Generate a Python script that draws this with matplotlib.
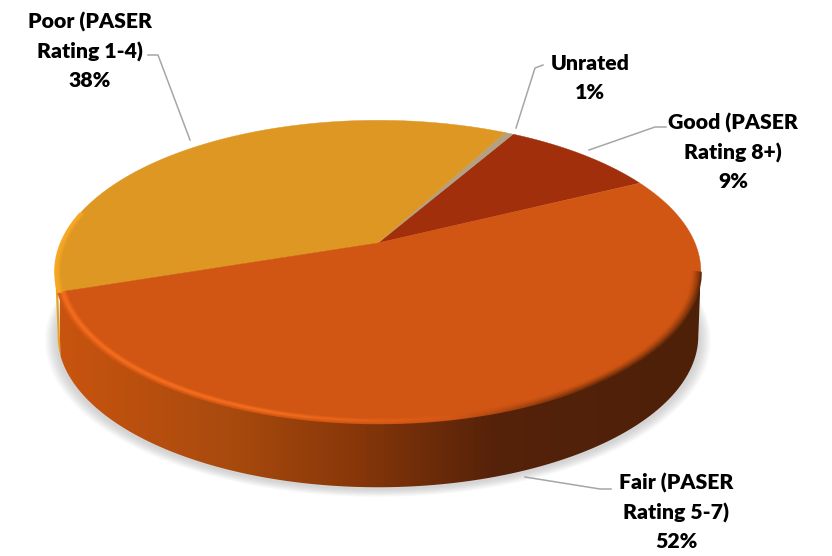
import numpy as np
import matplotlib
matplotlib.use('Agg')
import matplotlib.pyplot as plt
from matplotlib.colors import LinearSegmentedColormap, to_rgb
from matplotlib.collections import LineCollection
from matplotlib.patches import Polygon

labels = ['Good (PASER\nRating 8+)\n9%', 'Unrated\n1%', 'Poor (PASER\nRating 1-4)\n38%', 'Fair (PASER\nRating 5-7)\n52%']
values = [9.4, 0.5, 37.9, 52.2]
colors = ['#A22F0B', '#B3A183', '#DD9722', '#D25613']
wall_colors = [None, None, '#E8A020', None]

# pie geometry in pixels, the disc is tilted so the far half looks smaller
cx, cy = 378, 243
rx, ry, tilt = 317, 146, 0.19
depth = 64
start = 26.4


def project(theta, r=1.0, drop=0, shrink=1.0):
    t = np.radians(theta)
    x = r * np.cos(t)
    y = r * np.sin(t)
    w = 1 + tilt * y
    return np.column_stack([cx + shrink * rx * x / w, cy - ry * y / w + drop])


fig = plt.figure(figsize=(8.32, 5.56), dpi=100)
ax = fig.add_axes([0, 0, 1, 1])

wedges, _ = ax.pie(values, startangle=start, counterclock=True)
spans = [(w.theta1, w.theta2) for w in wedges]
for w in wedges:
    w.remove()

# soft shadow under the disc
all_angles = np.linspace(0, 360, 361)
for i in range(12):
    grow = 1.03 - i * 0.003
    ax.add_patch(Polygon(project(all_angles, r=grow, drop=depth + 3), closed=True,
                         fc='#666666', ec='none', alpha=0.025, zorder=1))

left_edge = 180 + np.degrees(np.arcsin(tilt))
right_edge = 360 - np.degrees(np.arcsin(tilt))

# side wall of the big slice, with a left to right gradient
fair = spans[3]
wall_t = np.linspace(fair[0], right_edge, 300)
wall_pts = np.vstack([project(wall_t), project(wall_t[::-1], drop=depth, shrink=0.992)])
wall = Polygon(wall_pts, closed=True, fc='none', ec='none', zorder=2)
ax.add_patch(wall)
grad = LinearSegmentedColormap.from_list('wall', [(0, '#C8540F'), (0.27, '#A84A0E'),
                                                  (0.45, '#8A3809'), (0.68, '#55220A'),
                                                  (1, '#4E2008')])
img = ax.imshow(np.linspace(0, 1, 400).reshape(1, -1), cmap=grad, aspect='auto',
                extent=[60, 700, 500, 240], zorder=2)
img.set_clip_path(wall)

# thin strip of the poor slice on the far left
poor = spans[2]
strip_t = np.linspace(left_edge, poor[1], 40)
ax.add_patch(Polygon(np.vstack([project(strip_t), project(strip_t[::-1], drop=depth, shrink=0.992)]),
                     closed=True, fc=wall_colors[2], ec='none', zorder=1.5))

# slices
for (t1, t2), col in zip(spans, colors):
    t = np.linspace(t1, t2, 200)
    pts = np.vstack([[cx, cy], project(t)])
    ax.add_patch(Polygon(pts, closed=True, fc=col, ec=col, lw=0.3, zorder=3))

# bevel along the rim
face = np.array(to_rgb(colors[3]))
bright = np.array(to_rgb('#F56E1E'))
dark = np.array(to_rgb('#5A2408'))
fair_t = np.linspace(fair[0], right_edge, 400)
for r in np.linspace(1.0, 0.97, 10):
    p = project(fair_t, r=r)
    seg = np.stack([p[:-1], p[1:]], axis=1)
    mid = p[:-1, 0]
    u = np.clip((1 - r) / 0.03, 0, 1)
    glow = np.clip((460 - mid) / 200, 0, 1) * np.sin(np.pi * u) ** 2
    shade = np.clip((mid - 450) / 150, 0, 1) * (1 - u) ** 1.4
    rgb = face + glow[:, None] * (bright - face) + shade[:, None] * (dark - face)
    ax.add_collection(LineCollection(seg, colors=np.clip(rgb, 0, 1), linewidths=1.4, zorder=4))

poor_t = np.linspace(168, poor[1], 120)
for r, a in zip(np.linspace(1.0, 0.985, 5), [0.9, 0.9, 0.7, 0.4, 0.2]):
    ax.plot(*project(poor_t, r=r).T, color='#F7A823', lw=1.4, alpha=a, zorder=4)

# leader lines
leaders = [([589, 655, 666], [150, 127, 127]),
           ([516, 535, 543], [128, 68, 65]),
           ([190, 158, 148], [140, 55, 55]),
           ([525, 600, 611], [477, 489, 489])]
for xs, ys in leaders:
    ax.plot(xs, ys, color='#A6A6A6', lw=1.1, zorder=5)

# labels
spots = [(733, 152), (590, 78), (90, 51), (676, 512)]
for lab, (x, y) in zip(labels, spots):
    ax.text(x, y, lab, ha='center', va='center', family='Lato', fontweight='heavy',
            fontsize=15.3, color='black', linespacing=1.6, zorder=6)

ax.set_xlim(0, 832)
ax.set_ylim(556, 0)
ax.set_aspect('auto')
ax.axis('off')
fig.savefig('out.png', dpi=100, facecolor='white')
